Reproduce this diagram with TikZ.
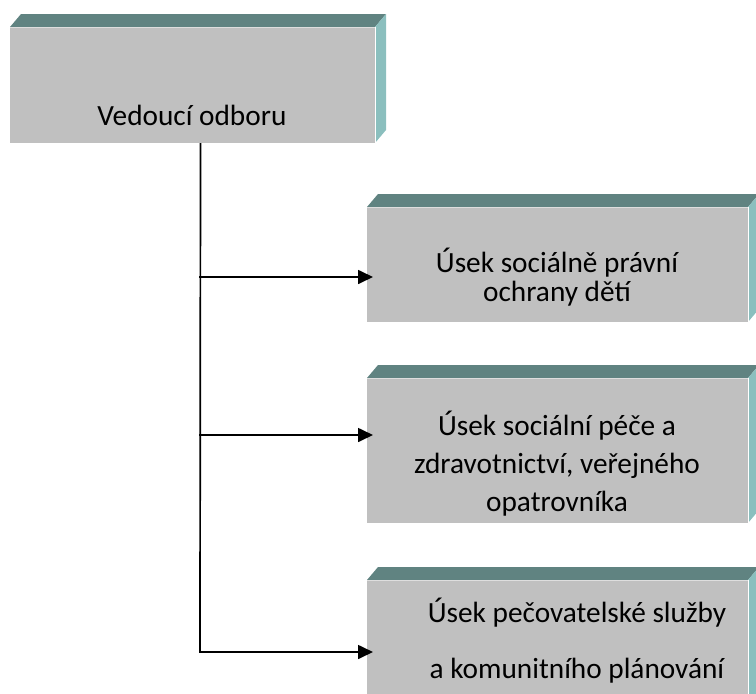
\documentclass[tikz,border=0pt]{standalone}
\usepackage{fontspec}
\setmainfont{Carlito}
\usetikzlibrary{arrows.meta,calc}

\definecolor{facegray}{RGB}{192,192,192}
\definecolor{topteal}{RGB}{96,131,129}
\definecolor{sideteal}{RGB}{139,191,190}
\definecolor{edgelight}{RGB}{222,222,222}

\tikzset{
  front/.style={rectangle, fill=facegray, draw=none, inner sep=0pt, outer sep=0pt},
  label/.style={anchor=base, inner sep=0pt, font=\fontsize{29.3}{35}\selectfont, text=black},
  conn/.style={line width=1.7pt, draw=black},
  arr/.style={conn, -{Triangle[length=15pt,width=14pt]}},
}

% bevelled top and right faces of a front rectangle
\newcommand\bevelbox[1]{%
  \fill[topteal] (#1.north west) -- ++(11,-13) -- ($(#1.north east)+(11,-13)$) -- (#1.north east) -- cycle;
  \fill[sideteal] (#1.north east) -- ++(11,-13) -- ($(#1.south east)+(11,-13)$) -- (#1.south east) -- cycle;
  \draw[edgelight, line width=1pt] ([yshift=-0.5pt]#1.north west) -- ([yshift=-0.5pt]#1.north east);
  \draw[white, line width=1.2pt] ([xshift=0.6pt]#1.north east) -- ([xshift=0.6pt]#1.south east);
}

\begin{document}
\begin{tikzpicture}[x=1pt,y=-1pt]
\useasboundingbox (0,0) rectangle (756,694);

% boxes
\node[front, minimum width=365pt, minimum height=116pt] (head) at (192.5,85) {};
\bevelbox{head}
\node[front, minimum width=381pt, minimum height=115pt] (b1) at (557.5,264.5) {};
\bevelbox{b1}
\node[front, minimum width=381pt, minimum height=145pt] (b2) at (557.5,450.5) {};
\bevelbox{b2}
\node[front, minimum width=381pt, minimum height=150pt] (b3) at (557.5,655) {};
\bevelbox{b3}

% texts
\node[label] (headtxt) at (192,125) {Vedoucí odboru};
\node[label] (b1a) at (557,272) {Úsek sociálně právní};
\node[label] (b1b) at (557,301) {ochrany dětí};
\node[label] (b2a) at (557,435) {Úsek sociální péče a};
\node[label] (b2b) at (557,473) {zdravotnictví, veřejného};
\node[label] (b2c) at (557,511) {opatrovníka};
\node[label] (b3a) at (577,622) {Úsek pečovatelské služby};
\node[label] (b3b) at (577,678) {a komunitního plánování};

% connectors
\coordinate (spinetop) at ([xshift=8pt]head.south);
\coordinate (j1) at (200,277);
\coordinate (j2) at (200,435);
\coordinate (j3) at (200,652);
\draw[conn] (spinetop) -- (j3);
\draw[arr] ([xshift=-0.85pt]j1) -- ($(j1 -| b1.west)+(6,0)$);
\draw[arr] ([xshift=-0.85pt]j2) -- ($(j2 -| b2.west)+(6,0)$);
\draw[arr] ([xshift=-0.85pt]j3) -- ($(j3 -| b3.west)+(6,0)$);
\end{tikzpicture}
\end{document}
